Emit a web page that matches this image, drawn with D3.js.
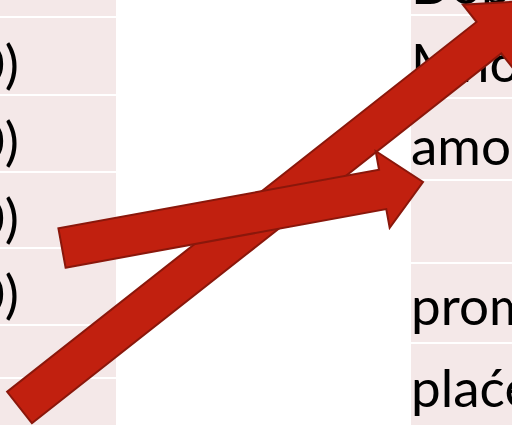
<!DOCTYPE html>
<html>
<head>
<meta charset="utf-8">
<script src="https://cdn.jsdelivr.net/npm/d3@7"></script>
<style>
  html, body { margin: 0; padding: 0; background: #fff; }
  svg { display: block; overflow: hidden; }
</style>
</head>
<body>
<div id="chart"></div>
<script>
// table contents (only the edges of the slide are visible)
const leftLabels = ['', '(100)', '(200)', '(300)', '(400)', '', '(500)'];
const rightLabels = ['Dobit', 'Mnogo', 'amortizacija', '', 'promjene', 'plaće'];

// row boundaries of the two table columns
const leftRows = [-60, 18, 96, 173, 249, 326, 379, 470];
const rightRows = [-61, 16, 99, 181, 264, 344, 430];
const leftBaseline = [0, 83, 160, 237, 313, 0, 466];
const rightBaseline = [4, 82, 165, 0, 325, 407];

// arrows: tail centre, tip, shaft half width, head half width, head length
const arrows = [
    { tail: [19.5, 407.5], tip: [536, 0.5], shaft: 20, head: 42, len: 60 },
    { tail: [62, 248], tip: [423, 182], shaft: 20, head: 39, len: 41 }
];

function createSlide(selector) {
    const width = 512;
    const height = 425;
    const svg = d3.select(selector)
        .append('svg')
        .attr('width', width)
        .attr('height', height);

    const cellFill = '#f4e8e8';
    const gap = 2;
    const font = 'Lato, "Open Sans", sans-serif';

    // left column
    const left = svg.append('g');
    left.selectAll('rect')
        .data(leftLabels)
        .enter()
        .append('rect')
        .attr('x', 0)
        .attr('width', 116)
        .attr('y', (d, i) => leftRows[i])
        .attr('height', (d, i) => leftRows[i + 1] - leftRows[i] - gap)
        .attr('fill', cellFill);

    left.selectAll('text')
        .data(leftLabels)
        .enter()
        .append('text')
        .attr('x', (d, i) => i === 6 ? 12 : 19)
        .attr('y', (d, i) => leftBaseline[i])
        .attr('text-anchor', 'end')
        .style('font-family', font)
        .style('font-size', '53px')
        .attr('fill', '#000')
        .text(d => d);

    // right column
    const right = svg.append('g');
    right.selectAll('rect')
        .data(rightLabels)
        .enter()
        .append('rect')
        .attr('x', 411)
        .attr('width', 140)
        .attr('y', (d, i) => rightRows[i])
        .attr('height', (d, i) => rightRows[i + 1] - rightRows[i] - gap)
        .attr('fill', cellFill);

    right.selectAll('text')
        .data(rightLabels)
        .enter()
        .append('text')
        .attr('x', 411)
        .attr('y', (d, i) => rightBaseline[i])
        .style('font-family', font)
        .style('font-size', '53px')
        .attr('fill', '#000')
        .text(d => d);

    // block arrows on top
    const arrowPoints = a => {
        const dx = a.tip[0] - a.tail[0];
        const dy = a.tip[1] - a.tail[1];
        const l = Math.hypot(dx, dy);
        const ux = dx / l, uy = dy / l;
        const nx = -uy, ny = ux;
        const neck = [a.tip[0] - ux * a.len, a.tip[1] - uy * a.len];
        const p = (b, s) => [b[0] + nx * s, b[1] + ny * s];
        return [
            p(a.tail, a.shaft), p(neck, a.shaft), p(neck, a.head), a.tip,
            p(neck, -a.head), p(neck, -a.shaft), p(a.tail, -a.shaft)
        ];
    };

    const line = d3.line().curve(d3.curveLinearClosed);

    svg.append('g')
        .selectAll('path')
        .data(arrows)
        .enter()
        .append('path')
        .attr('d', d => line(arrowPoints(d)))
        .attr('fill', '#c1200f')
        .attr('stroke', '#8a170b')
        .attr('stroke-width', 2)
        .attr('stroke-linejoin', 'miter');

    return svg;
}

createSlide('#chart');
</script>
</body>
</html>
